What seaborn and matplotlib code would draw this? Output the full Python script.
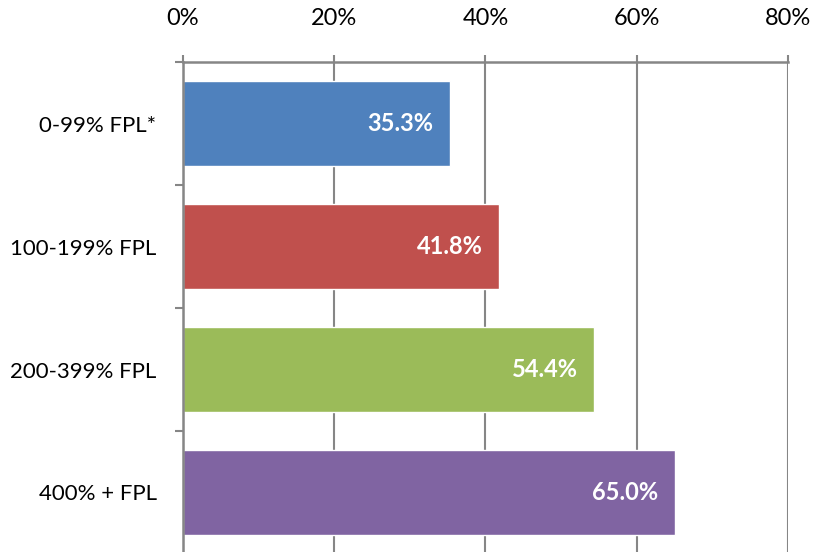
import matplotlib
matplotlib.use("Agg")
import matplotlib.pyplot as plt
import seaborn as sns
from matplotlib.ticker import PercentFormatter

# Chart data
categories = ["0-99% FPL*", "100-199% FPL", "200-399% FPL", "400% + FPL"]
values = [35.3, 41.8, 54.4, 65.0]
colors = ["#4F81BD", "#C0504D", "#9BBB59", "#8064A2"]
x_ticks = [0, 20, 40, 60, 80]

sns.set_theme(style="white")
plt.rcParams["font.family"] = ["Lato", "DejaVu Sans"]

fig = plt.figure(figsize=(8.2, 5.52), dpi=100)
ax = fig.add_axes([183 / 820, 1 - 554 / 552, 605 / 820, 492 / 552])

sns.barplot(x=values, y=categories, hue=categories, palette=colors,
            orient="h", width=0.69, saturation=1, legend=False, ax=ax)

ax.set_xlim(0, 80)
ax.set_ylim(3.5, -0.5)
ax.set_xticks(x_ticks)
ax.xaxis.set_major_formatter(PercentFormatter(decimals=0))
ax.xaxis.tick_top()
ax.set_xlabel("")
ax.set_ylabel("")

# ticks on the left sit between the categories
ax.set_yticks([-0.5, 0.5, 1.5, 2.5, 3.5])
ax.set_yticklabels([])
ax.set_yticks(range(len(categories)), minor=True)
ax.set_yticklabels(categories, minor=True)

grey = "#868686"
ax.grid(axis="x", color=grey, linewidth=1.5)
ax.set_axisbelow(True)
for side in ["right", "bottom"]:
    ax.spines[side].set_visible(False)
for side in ["top", "left"]:
    ax.spines[side].set_color(grey)
    ax.spines[side].set_linewidth(1.8)

ax.tick_params(axis="x", which="major", top=True, length=5, width=1.5,
               color=grey, labelsize=17, pad=19, labelcolor="black")
ax.tick_params(axis="y", which="major", left=True, length=6, width=1.5,
               color=grey)
ax.tick_params(axis="y", which="minor", left=False, length=0,
               labelsize=16, pad=19, labelcolor="black")

# value labels inside the bar ends
for i, v in enumerate(values):
    ax.text(v - 2.2, i, f"{v:.1f}%", ha="right", va="center",
            color="white", fontsize=17, fontweight="bold")

fig.savefig("out.png", dpi=100)
